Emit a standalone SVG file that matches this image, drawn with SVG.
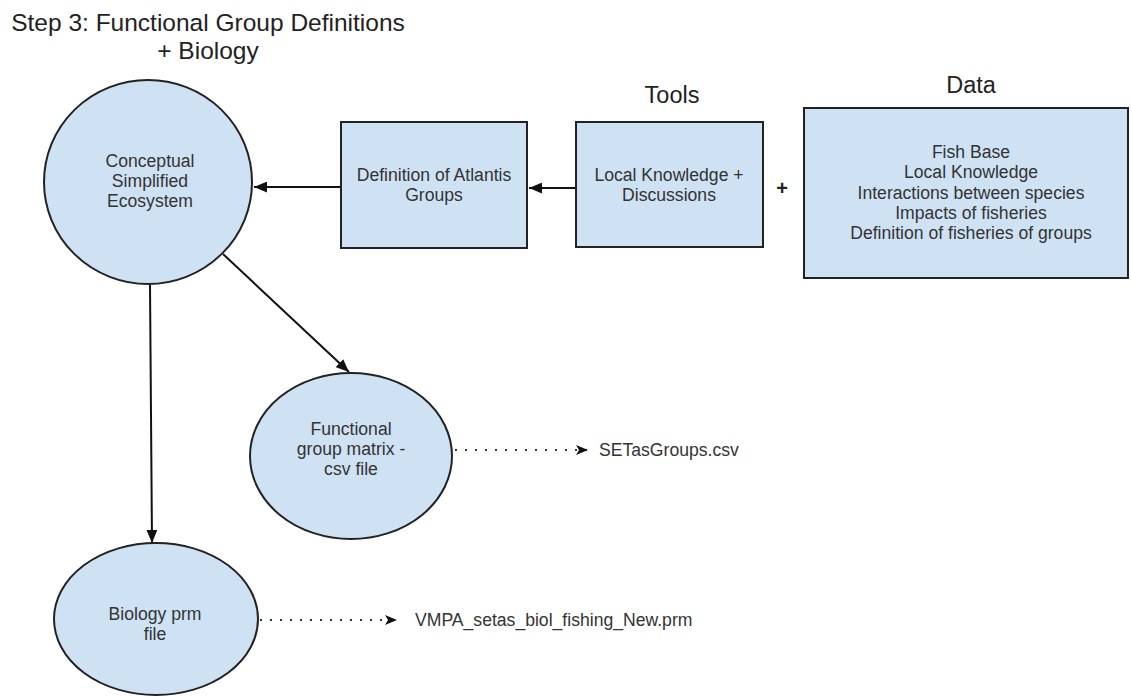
<svg xmlns="http://www.w3.org/2000/svg" width="1131" height="696" viewBox="0 0 1131 696">
<style>
.shape{fill:#cfe2f3;stroke:#222;stroke-width:2}
.t{font-family:"Liberation Sans",Arial,sans-serif;font-size:17.6px;fill:#333;text-anchor:middle}
.h{font-family:"Liberation Sans",Arial,sans-serif;fill:#222;text-anchor:middle}
.lbl{font-family:"Liberation Sans",Arial,sans-serif;font-size:17.6px;fill:#333}
.c{stroke:#111;stroke-width:2;fill:none}
.d{stroke:#333;stroke-width:2.2;fill:none;stroke-dasharray:2 8}
</style>
<defs>
<marker id="arr" viewBox="0 0 12 10" refX="12" refY="5" markerWidth="13" markerHeight="11" markerUnits="userSpaceOnUse" orient="auto">
<path d="M0,0 L12,5 L0,10 z" fill="#111"/>
</marker>
<marker id="notch" viewBox="0 0 12 10" refX="12" refY="5" markerWidth="12" markerHeight="10" markerUnits="userSpaceOnUse" orient="auto">
<path d="M0,0 L12,5 L0,10 L3,5 z" fill="#111"/>
</marker>
</defs>
<rect width="1131" height="696" fill="#fff"/>
<g id="title">
<text class="h" font-size="24.5" x="208" y="31">Step 3: Functional Group Definitions</text>
<text class="h" font-size="24.5" x="208" y="59">+ Biology</text>
</g>
<g id="label-tools"><text class="h" font-size="23.5" x="672" y="103">Tools</text></g>
<g id="label-data"><text class="h" font-size="23.5" x="971" y="93">Data</text></g>
<g id="plus"><text class="h" font-size="20" font-weight="bold" x="782" y="195">+</text></g>
<g id="connectors">
<line class="c" x1="341" y1="187" x2="254" y2="187" marker-end="url(#arr)"/>
<line class="c" x1="576" y1="188" x2="529" y2="188" marker-end="url(#arr)"/>
<line class="c" x1="223" y1="254" x2="349" y2="372" marker-end="url(#arr)"/>
<line class="c" x1="150" y1="285" x2="152" y2="543" marker-end="url(#arr)"/>
<line class="d" x1="455" y1="450" x2="588" y2="450" marker-end="url(#notch)"/>
<line class="d" x1="260" y1="620" x2="397" y2="620" marker-end="url(#notch)"/>
</g>
<g id="node-ecosystem">
<ellipse class="shape" cx="148" cy="182" rx="104" ry="102"/>
<text class="t" x="150" y="167">Conceptual</text>
<text class="t" x="150" y="187">Simplified</text>
<text class="t" x="150" y="207">Ecosystem</text>
</g>
<g id="node-atlantis">
<rect class="shape" x="341" y="122" width="186" height="126"/>
<text class="t" x="434" y="181">Definition of Atlantis</text>
<text class="t" x="434" y="201">Groups</text>
</g>
<g id="node-tools">
<rect class="shape" x="576" y="122" width="187" height="125"/>
<text class="t" x="669" y="181">Local Knowledge +</text>
<text class="t" x="669" y="201">Discussions</text>
</g>
<g id="node-data">
<rect class="shape" x="804" y="108" width="324" height="170"/>
<text class="t" x="971" y="158">Fish Base</text>
<text class="t" x="971" y="178">Local Knowledge</text>
<text class="t" x="971" y="199">Interactions between species</text>
<text class="t" x="971" y="219">Impacts of fisheries</text>
<text class="t" x="971" y="239">Definition of fisheries of groups</text>
</g>
<g id="node-functional">
<ellipse class="shape" cx="351" cy="456" rx="101" ry="83"/>
<text class="t" x="351" y="435">Functional</text>
<text class="t" x="351" y="455">group matrix -</text>
<text class="t" x="351" y="475">csv file</text>
</g>
<g id="node-biology">
<ellipse class="shape" cx="156" cy="619" rx="102" ry="76"/>
<text class="t" x="155" y="620">Biology prm</text>
<text class="t" x="155" y="640">file</text>
</g>
<g id="file-setas"><text class="lbl" x="599" y="456">SETasGroups.csv</text></g>
<g id="file-vmpa"><text class="lbl" x="415" y="626">VMPA_setas_biol_fishing_New.prm</text></g>
</svg>
